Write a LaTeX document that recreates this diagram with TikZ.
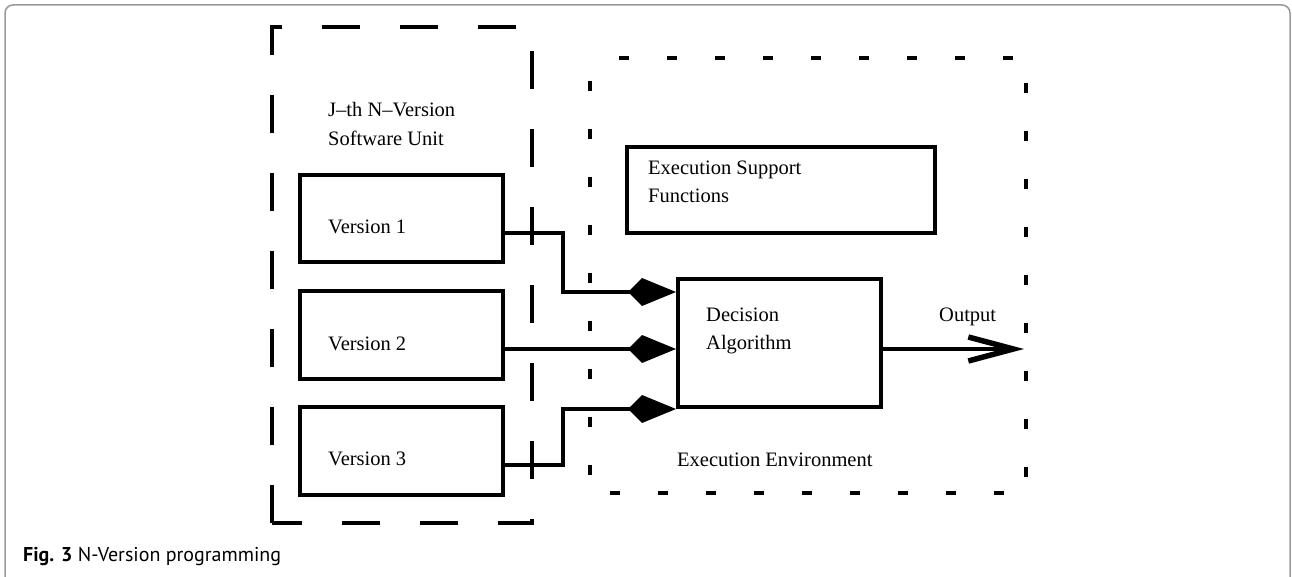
\documentclass[tikz,border=0pt]{standalone}
\usepackage{fontspec}
\setmainfont{Liberation Serif}
\newfontfamily\capfont{PT Sans}
\usetikzlibrary{arrows.meta}
\begin{document}
\begin{tikzpicture}[x=1pt,y=-1pt,
  box/.style={draw,line width=4pt,inner sep=0pt,rectangle},
  lbl/.style={anchor=base west,inner sep=0pt,font=\fontsize{20.5}{24}\selectfont},
  conn/.style={line width=4pt},
  kitetip/.style={-{Kite[length=48pt,width=28pt,inset=14pt]}},
  outtip/.style={-{Straight Barb[length=45pt,width=24pt,line width=5.5pt]}},
]
\useasboundingbox (0,0) rectangle (1292,577);
\draw[gray!80, line width=1.5pt, rounded corners=8pt] (5,585) -- (5,5) -- (1290,5) -- (1290,585);

% containers
\draw[line width=4pt, dash pattern=on 38pt off 40pt] (272,523) -- (272,27) -- (532,27) -- (532,523) -- cycle;
\draw[line width=4pt, dash pattern=on 10pt off 38pt, dash phase=19pt] (590,58) -- (1026,58) -- (1026,493) -- (590,493) -- cycle;

% boxes
\node[box, minimum width=203pt, minimum height=87pt] (v1) at (401.5,218.5) {};
\node[box, minimum width=203pt, minimum height=88pt] (v2) at (401.5,335) {};
\node[box, minimum width=203pt, minimum height=88pt] (v3) at (401.5,451) {};
\node[box, minimum width=308pt, minimum height=86pt] (esf) at (781,190) {};
\node[box, minimum width=203pt, minimum height=128pt] (da) at (779.5,343) {};
\coordinate (oe) at (1024,349);

% texts
\node[lbl] (t1) at (328,117) {J–th N–Version};
\node[lbl] (t2) at (328,146) {Software Unit};
\node[lbl] (l1) at (328,234) {Version 1};
\node[lbl] (l2) at (328,350) {Version 2};
\node[lbl] (l3) at (328,465) {Version 3};
\node[lbl] (e1) at (648,175) {Execution Support};
\node[lbl] (e2) at (648,203) {Functions};
\node[lbl] (d1) at (706,321) {Decision};
\node[lbl] (d2) at (706,349) {Algorithm};
\node[lbl] (o) at (939,321) {Output};
\node[lbl] (env) at (677,466) {Execution Environment};

% connectors
\draw[conn,kitetip] ([yshift=-14.5pt]v1.east) -- ++(58,0) |- ([yshift=51pt]da.west);
\draw[conn,kitetip] ([yshift=-14pt]v2.east) -- ([yshift=-6pt]da.west);
\draw[conn,kitetip] ([yshift=-14pt]v3.east) -- ++(58,0) |- (da.south west);
\draw[conn,outtip] ([yshift=-6pt]da.east) -- (oe);

% caption
\node[anchor=base west,inner sep=0pt,font=\capfont\fontsize{20}{24}\selectfont] (cap) at (23,561) {\textbf{Fig. 3} N-Version programming};
\end{tikzpicture}
\end{document}
